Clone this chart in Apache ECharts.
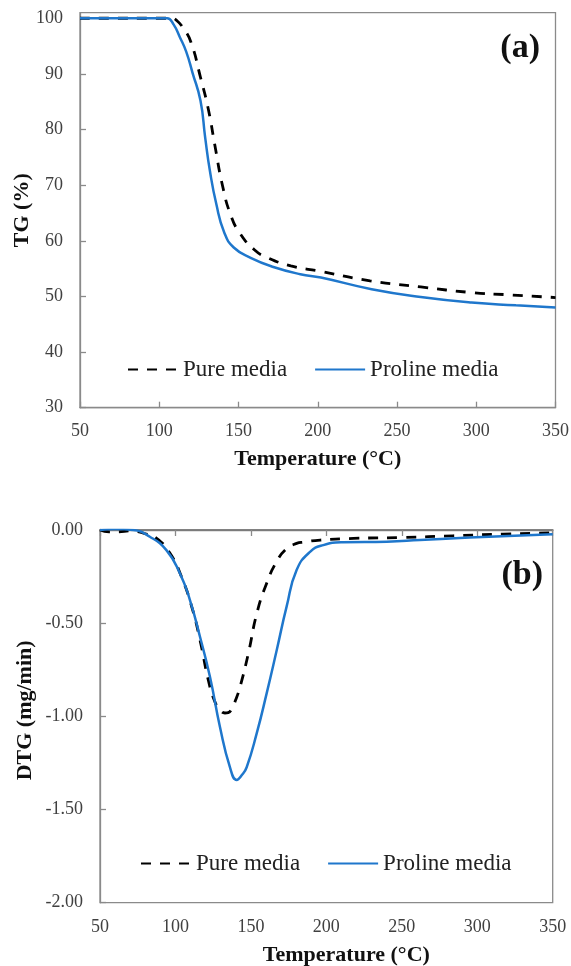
<!DOCTYPE html>
<html>
<head>
<meta charset="utf-8">
<script src="https://cdn.jsdelivr.net/npm/echarts@6/dist/echarts.min.js"></script>
<style>
html,body{margin:0;padding:0;background:#fff;}
#chart{width:571px;height:966px;}
</style>
</head>
<body>
<div id="chart"></div>
<script>
// ---- Data ----
const seriesNames = ['Pure media', 'Proline media'];
const panelLabels = ['(a)', '(b)'];
const xTitle = 'Temperature (°C)';
const tgTitle = 'TG (%)';
const dtgTitle = 'DTG (mg/min)';

// (a) TG curves
const tgPureTemp = [50, 100, 108, 111, 115, 120, 126, 131, 135, 140, 145, 151, 160, 168, 183, 202, 233, 265, 297, 320, 350];
const tgPureVal  = [100, 100, 100, 99.6, 98.3, 95.7, 89.4, 83.6, 77.3, 69.8, 64.7, 61.3, 58.4, 57.0, 55.5, 54.5, 52.8, 51.7, 50.7, 50.3, 49.8];
const tgProTemp  = [50, 100, 105, 109, 113, 117, 121, 126, 129, 132, 136, 141, 147, 158, 172, 189, 202, 234, 265, 297, 325, 350];
const tgProVal   = [100, 100, 100, 98.9, 96.6, 94.0, 90.2, 85.2, 78.5, 72.5, 66.6, 61.5, 58.8, 56.9, 55.3, 54.0, 53.4, 51.3, 49.9, 48.9, 48.4, 48.0];

// (b) DTG curves
const dtgPureTemp = [50, 56, 62, 70, 80, 87.5, 96.4, 104, 110.8, 116.3, 121.8, 126.2, 130, 132.8, 135, 137.3, 140, 142.8, 148.3, 153.9, 160.4, 167, 173.7, 180.3, 185, 196, 218, 251, 284, 317, 350];
const dtgPureVal  = [0, -0.01, -0.01, -0.005, -0.02, -0.045, -0.125, -0.251, -0.412, -0.591, -0.806, -0.923, -0.97, -0.982, -0.98, -0.959, -0.91, -0.842, -0.663, -0.448, -0.287, -0.17, -0.1, -0.072, -0.065, -0.054, -0.045, -0.04, -0.031, -0.022, -0.015];
const dtgProTemp  = [50, 60, 72, 83, 94, 103, 109.6, 116.3, 122.9, 129.5, 136.1, 140.6, 144, 147.2, 153.8, 160.4, 167.1, 173.7, 180.3, 189.2, 198, 211, 240, 262, 295, 350];
const dtgProVal   = [0, 0.005, 0, -0.036, -0.108, -0.233, -0.376, -0.574, -0.789, -1.057, -1.273, -1.341, -1.315, -1.273, -1.093, -0.878, -0.645, -0.41, -0.215, -0.117, -0.081, -0.066, -0.063, -0.054, -0.04, -0.023];

// ---- Helpers ----
function pairs(xs, ys) { return xs.map((x, i) => [x, ys[i]]); }

const FONT = "'Liberation Serif', 'Times New Roman', serif";
const AXIS_GREY = '#8a8a8a';
const LABEL_COL = '#404040';
const BLUE = '#1f77cc';

const chart = echarts.init(document.getElementById('chart'), null, { renderer: 'canvas' });

const axisLine = { show: true, lineStyle: { color: AXIS_GREY, width: 1.3 } };
const tickIn = { show: true, inside: true, length: 6, lineStyle: { color: AXIS_GREY, width: 1.3 } };
const axisLabelStyle = { fontFamily: FONT, fontSize: 18, color: LABEL_COL };
const nameStyle = { fontFamily: FONT, fontSize: 22, fontWeight: 'bold', color: '#111' };
const legendBase = {
  itemWidth: 50, itemHeight: 14, itemGap: 27, padding: 0,
  itemStyle: { opacity: 0 },
  textStyle: { fontFamily: FONT, fontSize: 23, color: '#222' },
  data: seriesNames
};
const DASH = { color: '#000', width: 2.8, type: [10, 9] };

const option = {
  animation: false,
  backgroundColor: '#fff',
  title: [
    { text: panelLabels[0], right: 31, top: 31, padding: 0,
      textStyle: { fontFamily: FONT, fontSize: 34, fontWeight: 'bold', color: '#111' } },
    { text: panelLabels[1], right: 28, top: 558, padding: 0,
      textStyle: { fontFamily: FONT, fontSize: 34, fontWeight: 'bold', color: '#111' } }
  ],
  legend: [
    Object.assign({}, legendBase, { left: 127, top: 358 }),
    Object.assign({}, legendBase, { left: 140, top: 852 })
  ],
  grid: [
    { left: 80, right: 15.5, top: 12.7, bottom: 966 - 407.7, show: true, borderColor: AXIS_GREY, borderWidth: 1.3,
      containLabel: false, outerBoundsMode: 'none' },
    { left: 100, right: 18.3, top: 530, bottom: 966 - 902.7, show: true, borderColor: AXIS_GREY, borderWidth: 1.3,
      containLabel: false, outerBoundsMode: 'none' }
  ],
  xAxis: [
    { gridIndex: 0, type: 'value', min: 50, max: 350, interval: 50,
      axisLine: axisLine, axisTick: tickIn, splitLine: { show: false },
      axisLabel: Object.assign({ margin: 15 }, axisLabelStyle),
      name: xTitle, nameLocation: 'middle', nameGap: 41, nameTextStyle: nameStyle },
    { gridIndex: 1, type: 'value', min: 50, max: 350, interval: 50, position: 'bottom',
      axisLine: axisLine, axisTick: { show: false }, splitLine: { show: false },
      axisLabel: Object.assign({ margin: 16 }, axisLabelStyle),
      name: xTitle, nameLocation: 'middle', nameGap: 42,
      nameTextStyle: Object.assign({ padding: [0, 0, 0, 40] }, nameStyle) },
    { gridIndex: 1, type: 'value', min: 50, max: 350, interval: 50, position: 'top',
      axisLine: { show: true, lineStyle: { color: '#777', width: 1.6 } },
      axisTick: { show: true, inside: true, length: 6, lineStyle: { color: AXIS_GREY, width: 1.3 } },
      axisLabel: { show: false }, splitLine: { show: false } }
  ],
  yAxis: [
    { gridIndex: 0, type: 'value', min: 30, max: 101, interval: 10,
      axisLine: axisLine, axisTick: tickIn, splitLine: { show: false },
      axisLabel: Object.assign({ margin: 17, showMaxLabel: false }, axisLabelStyle),
      name: tgTitle, nameLocation: 'middle', nameGap: 47, nameMoveOverlap: false, nameTextStyle: nameStyle },
    { gridIndex: 1, type: 'value', min: -2, max: 0, interval: 0.5,
      axisLine: axisLine, axisTick: tickIn, splitLine: { show: false },
      axisLabel: Object.assign({ margin: 17, formatter: v => v.toFixed(2) }, axisLabelStyle),
      name: dtgTitle, nameLocation: 'middle', nameGap: 64, nameMoveOverlap: false,
      nameTextStyle: Object.assign({ padding: [0, 0, 0, 12] }, nameStyle) }
  ],
  series: [
    { name: seriesNames[0], type: 'line', xAxisIndex: 0, yAxisIndex: 0, symbol: 'none',
      smooth: 0.5, z: 2,
      lineStyle: DASH, itemStyle: { color: '#000' },
      data: pairs(tgPureTemp, tgPureVal) },
    { name: seriesNames[1], type: 'line', xAxisIndex: 0, yAxisIndex: 0, symbol: 'none',
      smooth: 0.5, z: 3,
      lineStyle: { color: BLUE, width: 2.5 }, itemStyle: { color: BLUE },
      data: pairs(tgProTemp, tgProVal) },
    { name: seriesNames[0], type: 'line', xAxisIndex: 1, yAxisIndex: 1, symbol: 'none',
      smooth: 0.5, z: 2,
      lineStyle: DASH, itemStyle: { color: '#000' },
      data: pairs(dtgPureTemp, dtgPureVal) },
    { name: seriesNames[1], type: 'line', xAxisIndex: 1, yAxisIndex: 1, symbol: 'none',
      smooth: 0.5, z: 3,
      lineStyle: { color: BLUE, width: 2.5 }, itemStyle: { color: BLUE },
      data: pairs(dtgProTemp, dtgProVal) }
  ]
};
chart.setOption(option);
</script>
</body>
</html>
